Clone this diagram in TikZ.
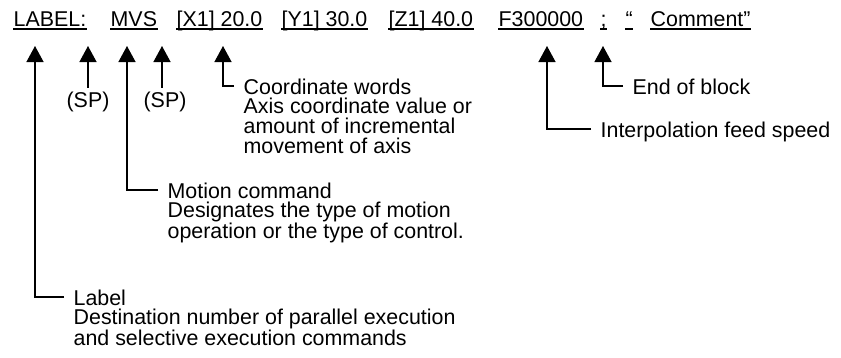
\documentclass[tikz,border=0pt]{standalone}
\usepackage{fontspec}
\setmainfont{Liberation Sans}
\usetikzlibrary{arrows.meta,positioning}

\tikzset{
  tok/.style={anchor=base west,inner sep=0pt},
  desc/.style={anchor=north west,inner sep=0pt,align=left},
  sp/.style={anchor=base,inner sep=3pt},
}

\begin{document}
\begin{tikzpicture}[x=1pt,y=-1pt,->,>={Triangle[width=17pt,length=16pt]},
        line width=1.3pt,font=\fontsize{21.4}{19.8}\selectfont]

  \useasboundingbox (0,0) rectangle (841,357);

  % the statement
  \node[tok] (label)   at (13,26)  {LABEL:};
  \node[tok] (mvs)     at (110,26) {MVS};
  \node[tok] (xw)      at (176,26) {[X1] 20.0};
  \node[tok] (yw)      at (281,26) {[Y1] 30.0};
  \node[tok] (zw)      at (388,26) {[Z1] 40.0};
  \node[tok] (feed)    at (498,26) {F300000};
  \node[tok] (eob)     at (600,26) {;};
  \node[tok] (quote)   at (625,26) {“};
  \node[tok] (comment) at (650,26) {Comment”};

  \foreach \t in {label,mvs,xw,yw,zw,feed,eob,quote,comment}
    \draw[-,line width=1.2pt] ([yshift=-3pt]\t.base west) -- ([yshift=-3pt]\t.base east);

  % arrow tips
  \coordinate (labeltip) at (35,46);
  \coordinate (sp1tip)   at (88,46);
  \coordinate (mvstip)   at (127,46);
  \coordinate (sp2tip)   at (162,46);
  \coordinate (xwtip)    at (223,46);
  \coordinate (feedtip)  at (547,46);
  \coordinate (eobtip)   at (603,46);

  \node[sp] (sp1) at (88,107)  {(SP)};
  \node[sp] (sp2) at (165,107) {(SP)};

  \node[desc] (coordtxt)  at (243,78)  {Coordinate words\\Axis coordinate value or\\amount of incremental\\movement of axis};
  \node[desc] (eobtxt)    at (632,78)  {End of block};
  \node[desc] (feedtxt)   at (600,121) {Interpolation feed speed};
  \node[desc] (motiontxt) at (167,182) {Motion command\\Designates the type of motion\\operation or the type of control.};
  \node[desc] (labeltxt)  at (73,289)  {Label\\Destination number of parallel execution\\and selective execution commands};

  \draw (sp1.north) -- (sp1tip);
  \draw (sp2.north -| sp2tip) -- (sp2tip);
  \draw ([xshift=-9pt,yshift=-8pt]coordtxt.north west) -| (xwtip);
  \draw ([xshift=-9pt,yshift=-8pt]eobtxt.north west) -| (eobtip);
  \draw ([xshift=-9pt,yshift=-8pt]feedtxt.north west) -| (feedtip);
  \draw ([xshift=-9pt,yshift=-8pt]motiontxt.north west) -| (mvstip);
  \draw ([xshift=-9pt,yshift=-8pt]labeltxt.north west) -| (labeltip);

\end{tikzpicture}
\end{document}
